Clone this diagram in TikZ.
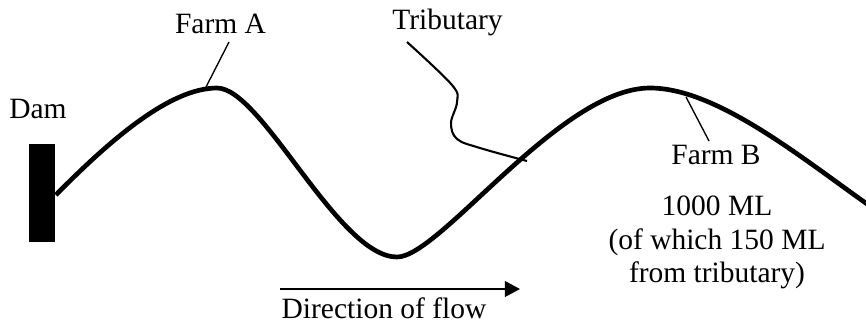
\documentclass[tikz,border=0pt]{standalone}
\usepackage{fontspec}
\setmainfont{Liberation Serif}
\usetikzlibrary{arrows.meta, positioning, calc}
\tikzset{
  etiqueta/.style={font=\fontsize{12}{13.8}\selectfont, inner sep=0pt, align=center},
  presabox/.style={rectangle, fill=black, inner sep=0pt, minimum width=10.6pt, minimum height=39.9pt},
  rio/.style={line width=1.9pt, line join=round},
  afluente/.style={line width=0.85pt},
  puntero/.style={line width=0.55pt},
  flecha/.style={line width=0.85pt, -{Triangle[length=6.2pt, width=6.4pt]}}
}
\begin{document}
\begin{tikzpicture}[x=0.407pt, y=-0.407pt]
  \useasboundingbox (0,0) rectangle (866,323);
  % presa y etiquetas
  \node (presa) [presabox] at (42.3,193) {};
  \node (txtpresa) [etiqueta, anchor=base] at (38,118) {Dam};
  \node (granjaA) [etiqueta, anchor=base] at (220.5,33) {Farm A};
  \node (txtafl) [etiqueta, anchor=base] at (447.5,29.5) {Tributary};
  \node (granjaB) [etiqueta, anchor=base] at (716,164) {Farm B};
  \node (volumen) [etiqueta, anchor=north] at (717,195) {1000 ML\\ (of which 150 ML\\ from tributary)};
  \node (flujo) [etiqueta, anchor=base] at (384,318) {Direction of flow};
  % puntos del rio
  \coordinate (r0) at ($(presa.east)+(0,2)$);
  \coordinate (cimaA) at (217,88);
  \coordinate (valle) at (397,257);
  \coordinate (cimaB) at (650,88);
  \coordinate (rfin) at (880,213);
  \coordinate (pA) at (205,89);
  \coordinate (pB) at (686,97);
  \coordinate (union) at (527,161);
  % rio principal
  \draw [rio] (r0) .. controls (110,140) and (170,88) .. (cimaA)
              .. controls (262,88) and (338,257) .. (valle)
              .. controls (440,257) and (560,88) .. (cimaB)
              .. controls (720,88) and (810,165) .. (rfin);
  % afluente
  \draw [afluente] plot [smooth, tension=0.6] coordinates
        {(407,42) (452,85) (457,102) (451,123) (457,139) (480,148) (union)};
  % punteros
  \draw [puntero] (229,42) -- (pA);
  \draw [puntero] (pB) -- (709,141);
  % flecha
  \coordinate (flujoIni) at (280,289);
  \coordinate (flujoFin) at (520,289);
  \draw [flecha] (flujoIni) -- (flujoFin);
\end{tikzpicture}
\end{document}
